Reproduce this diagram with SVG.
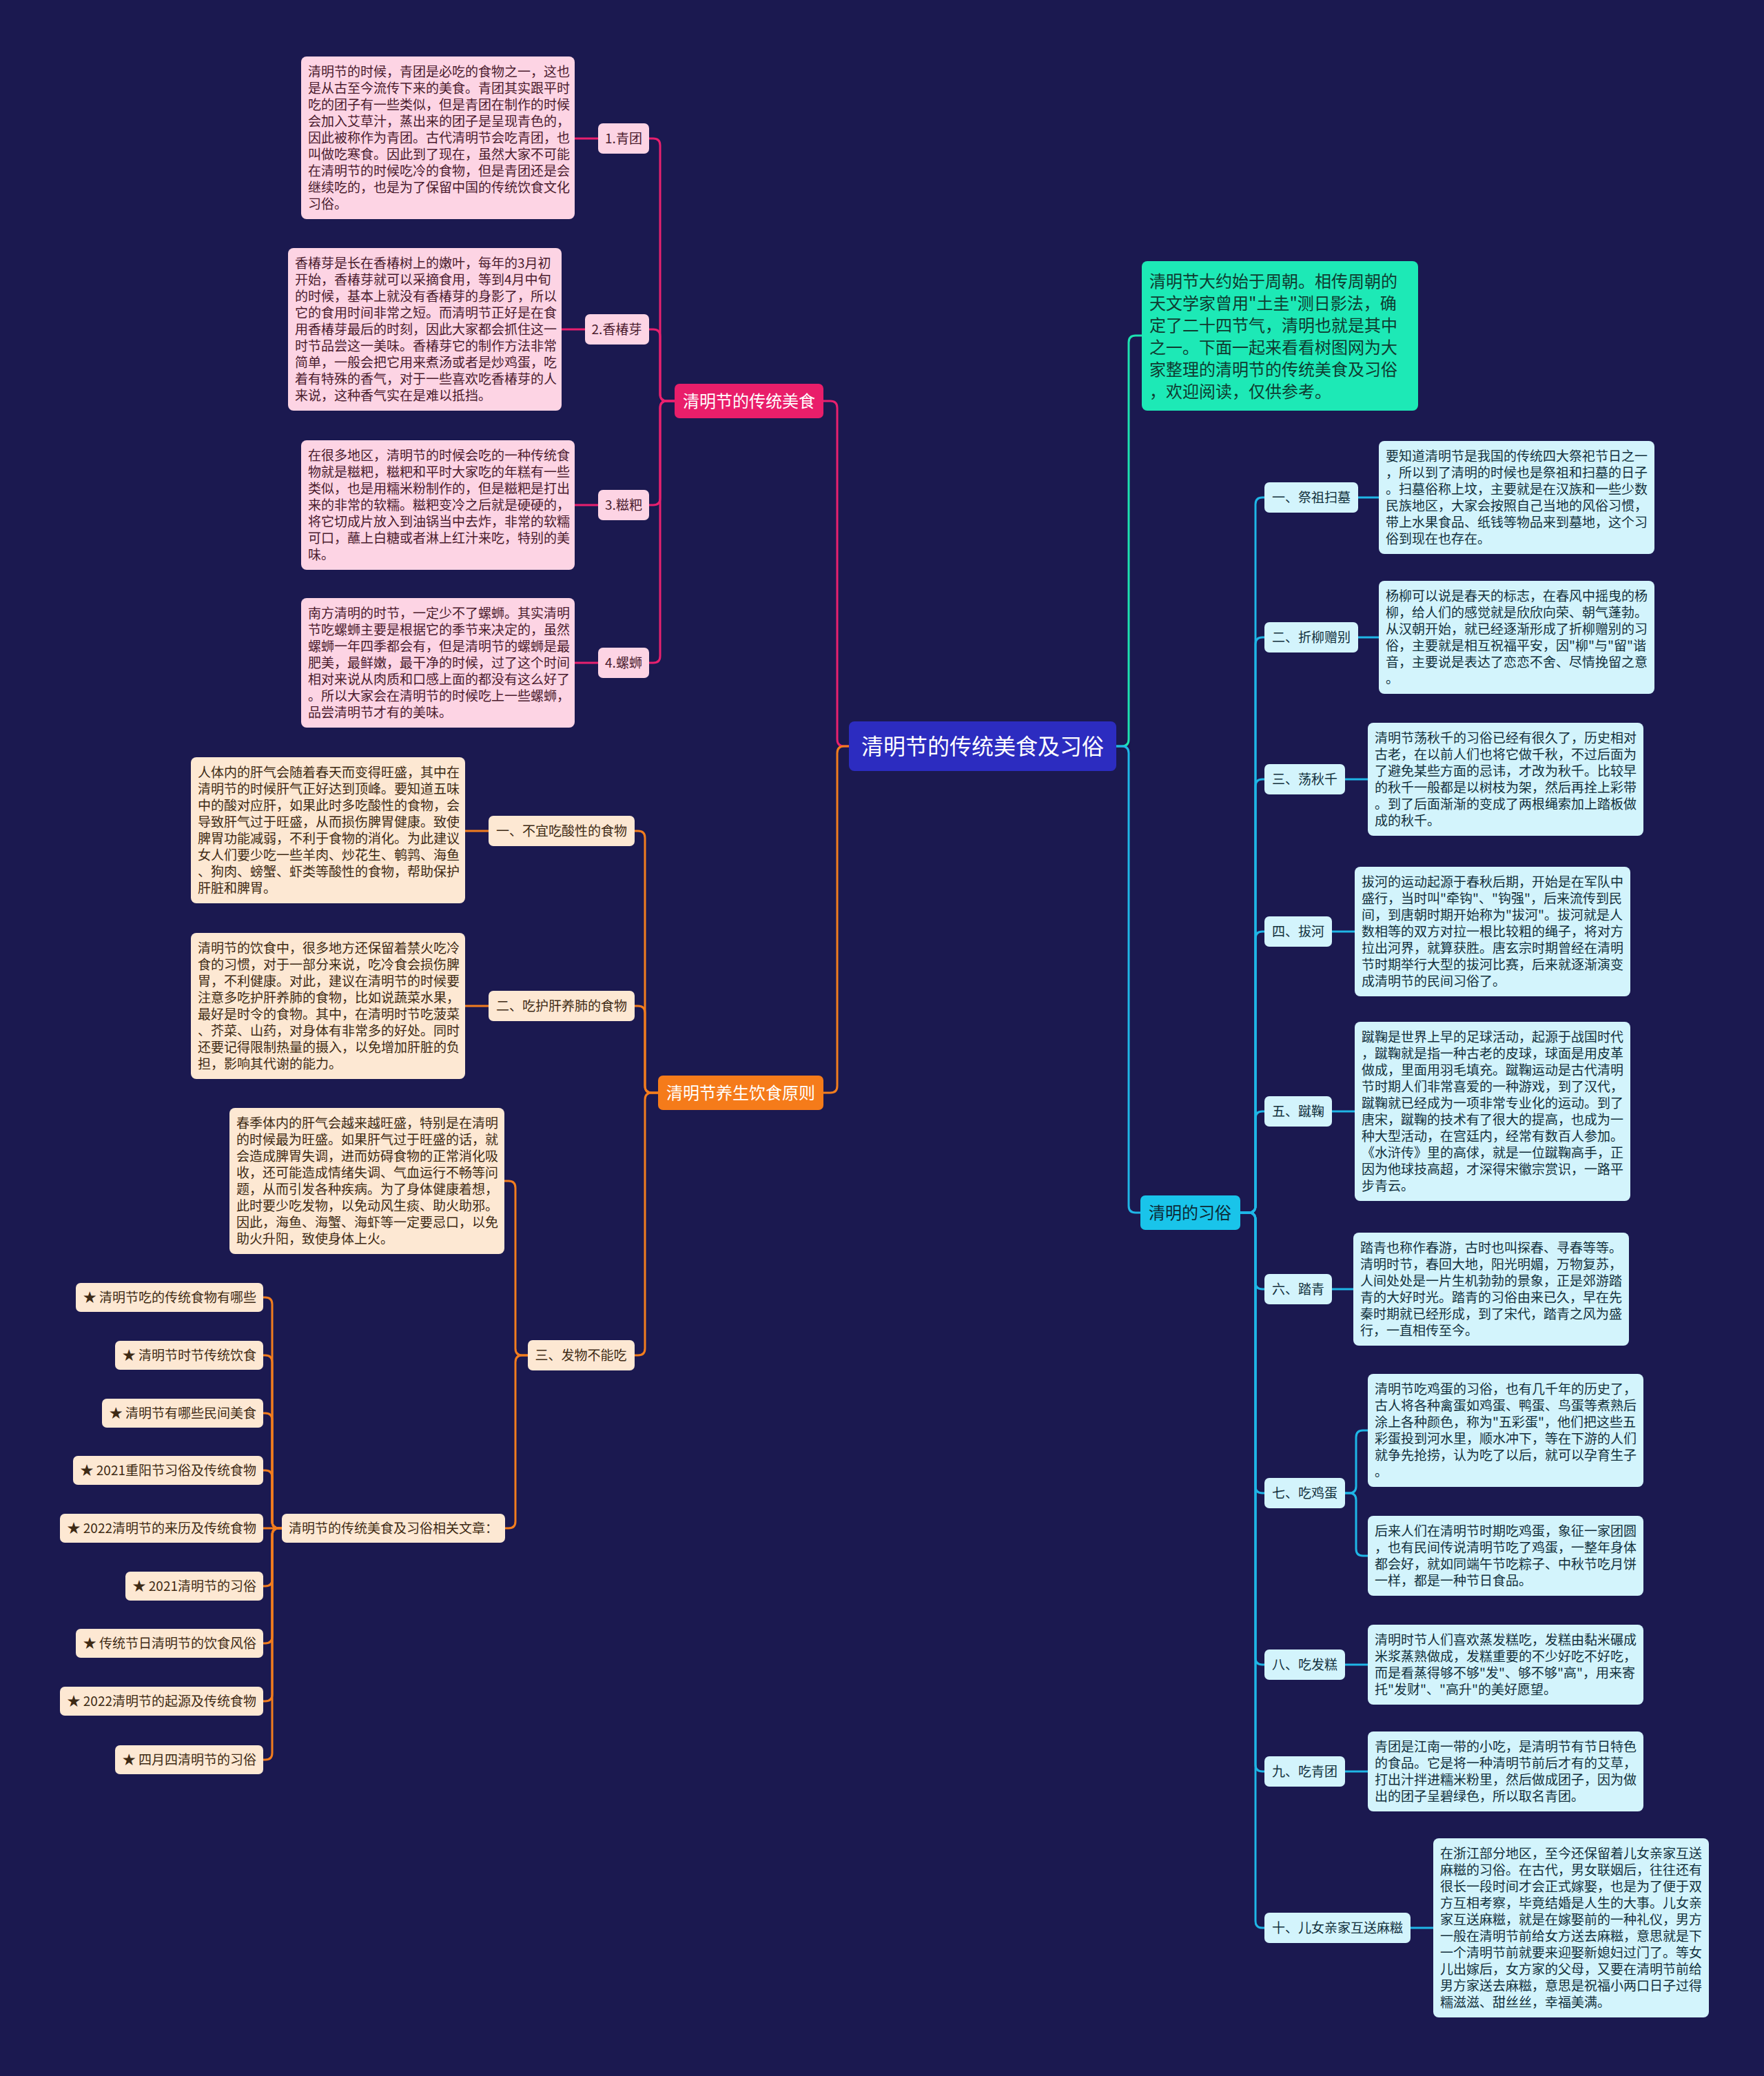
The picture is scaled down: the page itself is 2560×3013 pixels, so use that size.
<svg xmlns="http://www.w3.org/2000/svg" width="2560" height="3013" viewBox="0 0 2560 3013">
<style>
text{font-family:"Noto Sans CJK SC","Noto Sans",sans-serif;}
.t19{font-size:19px;}
.pkb{fill:#fdd4e4;}
.pkt{fill:#4a1b2d;}
.orb{fill:#fde8d3;}
.ort{fill:#3e2a14;}
.cyb{fill:#d3f4fc;}
.cyt{fill:#12303c;}
.lp{fill:none;stroke:#e8206e;stroke-width:3;}
.lo{fill:none;stroke:#f27d1e;stroke-width:3;}
.lc{fill:none;stroke:#1fb6e6;stroke-width:3;}
.lt{fill:none;stroke:#1de2b0;stroke-width:3;}
</style>
<rect x="0" y="0" width="2560" height="3013" fill="#1b1950"/>
<g id="connectors">
<path class="lp" d="M1232 1083 H1225 Q1215 1083 1215 1073 V592 Q1215 582 1205 582 H1195"/>
<path class="lo" d="M1232 1083 H1225 Q1215 1083 1215 1093 V1576 Q1215 1586 1205 1586 H1195"/>
<path class="lt" d="M1620 1083 H1628 Q1638 1083 1638 1073 V497 Q1638 487 1648 487 H1657"/>
<path class="lc" d="M1620 1083 H1628 Q1638 1083 1638 1093 V1750 Q1638 1760 1648 1760 H1655"/>
<path class="lp" d="M979 582 H968 Q958 582 958 572 V211 Q958 201 948 201 H942"/>
<path class="lp" d="M979 582 H968 Q958 582 958 572 V488 Q958 478 948 478 H942"/>
<path class="lp" d="M979 582 H968 Q958 582 958 592 V723 Q958 733 948 733 H942"/>
<path class="lp" d="M979 582 H968 Q958 582 958 592 V952 Q958 962 948 962 H942"/>
<path class="lp" d="M868 201 H834"/>
<path class="lp" d="M849 478 H815"/>
<path class="lp" d="M868 733 H834"/>
<path class="lp" d="M868 962 H834"/>
<path class="lo" d="M955 1586 H946 Q936 1586 936 1576 V1216 Q936 1206 926 1206 H921"/>
<path class="lo" d="M955 1586 H946 Q936 1586 936 1576 V1470 Q936 1460 926 1460 H921"/>
<path class="lo" d="M955 1586 H946 Q936 1586 936 1596 V1957 Q936 1967 926 1967 H921"/>
<path class="lo" d="M709 1206 H675"/>
<path class="lo" d="M709 1460 H675"/>
<path class="lo" d="M766 1967 H758 Q748 1967 748 1957 V1724 Q748 1714 738 1714 H732"/>
<path class="lo" d="M766 1967 H758 Q748 1967 748 1977 V2208 Q748 2218 738 2218 H733"/>
<path class="lo" d="M409 2218 H405 Q395 2218 395 2208 V1893 Q395 1883 385 1883 H382"/>
<path class="lo" d="M409 2218 H405 Q395 2218 395 2208 V1977 Q395 1967 385 1967 H382"/>
<path class="lo" d="M409 2218 H405 Q395 2218 395 2208 V2061 Q395 2051 385 2051 H382"/>
<path class="lo" d="M409 2218 H405 Q395 2218 395 2208 V2144 Q395 2134 385 2134 H382"/>
<path class="lo" d="M409 2218 H382"/>
<path class="lo" d="M409 2218 H405 Q395 2218 395 2228 V2292 Q395 2302 385 2302 H382"/>
<path class="lo" d="M409 2218 H405 Q395 2218 395 2228 V2375 Q395 2385 385 2385 H382"/>
<path class="lo" d="M409 2218 H405 Q395 2218 395 2228 V2459 Q395 2469 385 2469 H382"/>
<path class="lo" d="M409 2218 H405 Q395 2218 395 2228 V2544 Q395 2554 385 2554 H382"/>
<path class="lc" d="M1800 1760 H1812 Q1822 1760 1822 1750 V732 Q1822 722 1832 722 H1835"/>
<path class="lc" d="M1800 1760 H1812 Q1822 1760 1822 1750 V935 Q1822 925 1832 925 H1835"/>
<path class="lc" d="M1800 1760 H1812 Q1822 1760 1822 1750 V1141 Q1822 1131 1832 1131 H1835"/>
<path class="lc" d="M1800 1760 H1812 Q1822 1760 1822 1750 V1362 Q1822 1352 1832 1352 H1835"/>
<path class="lc" d="M1800 1760 H1812 Q1822 1760 1822 1750 V1623 Q1822 1613 1832 1613 H1835"/>
<path class="lc" d="M1800 1760 H1812 Q1822 1760 1822 1770 V1861 Q1822 1871 1832 1871 H1835"/>
<path class="lc" d="M1800 1760 H1812 Q1822 1760 1822 1770 V2157 Q1822 2167 1832 2167 H1835"/>
<path class="lc" d="M1800 1760 H1812 Q1822 1760 1822 1770 V2406 Q1822 2416 1832 2416 H1835"/>
<path class="lc" d="M1800 1760 H1812 Q1822 1760 1822 1770 V2561 Q1822 2571 1832 2571 H1835"/>
<path class="lc" d="M1800 1760 H1812 Q1822 1760 1822 1770 V2788 Q1822 2798 1832 2798 H1835"/>
<path class="lc" d="M1971 722 H2001"/>
<path class="lc" d="M1971 925 H2001"/>
<path class="lc" d="M1952 1131 H1985"/>
<path class="lc" d="M1933 1352 H1966"/>
<path class="lc" d="M1933 1613 H1966"/>
<path class="lc" d="M1933 1871 H1964"/>
<path class="lc" d="M1952 2167 H1958 Q1968 2167 1968 2157 V2086 Q1968 2076 1978 2076 H1985"/>
<path class="lc" d="M1952 2167 H1958 Q1968 2167 1968 2177 V2248 Q1968 2258 1978 2258 H1985"/>
<path class="lc" d="M1952 2416 H1985"/>
<path class="lc" d="M1952 2571 H1985"/>
<path class="lc" d="M2047 2798 H2080"/>
</g>

<g id="root">
<rect x="1232" y="1047" width="388" height="72" rx="8" fill="#2c2cc0"/>
<text x="1426" y="1095" font-size="32" fill="#ffffff" text-anchor="middle">清明节的传统美食及习俗</text>
</g>

<g id="branch-food">
<rect x="979" y="557" width="216" height="50" rx="7" fill="#e91e6a"/>
<text x="1087" y="591" font-size="24" fill="#ffffff" text-anchor="middle">清明节的传统美食</text>
</g>
<g id="branch-diet">
<rect x="955" y="1561" width="240" height="50" rx="7" fill="#f57b1a"/>
<text x="1075" y="1595" font-size="24" fill="#ffffff" text-anchor="middle">清明节养生饮食原则</text>
</g>
<g id="branch-intro">
<rect x="1657" y="379" width="401" height="217" rx="8" fill="#1de9b6"/>
<text font-size="24" fill="#0f3b30">
<tspan x="1668" y="417">清明节大约始于周朝。相传周朝的</tspan>
<tspan x="1668" y="449">天文学家曾用"土圭"测日影法，确</tspan>
<tspan x="1668" y="481">定了二十四节气，清明也就是其中</tspan>
<tspan x="1668" y="513">之一。下面一起来看看树图网为大</tspan>
<tspan x="1668" y="545">家整理的清明节的传统美食及习俗</tspan>
<tspan x="1668" y="577">，欢迎阅读，仅供参考。</tspan>
</text>
</g>
<g id="branch-custom">
<rect x="1655" y="1735" width="145" height="50" rx="7" fill="#19c4ea"/>
<text x="1727" y="1769" font-size="24" fill="#0c2a36" text-anchor="middle">清明的习俗</text>
</g>

<g id="food-1">
<rect class="pkb" x="868" y="179" width="74" height="44" rx="7"/>
<text class="t19 pkt" x="905" y="208" text-anchor="middle">1.青团</text>
</g>
<g id="food-1-text">
<rect class="pkb" x="437" y="82" width="397" height="236" rx="8"/>
<text class="t19 pkt">
<tspan x="447" y="111">清明节的时候，青团是必吃的食物之一，这也</tspan>
<tspan x="447" y="135">是从古至今流传下来的美食。青团其实跟平时</tspan>
<tspan x="447" y="159">吃的团子有一些类似，但是青团在制作的时候</tspan>
<tspan x="447" y="183">会加入艾草汁，蒸出来的团子是呈现青色的，</tspan>
<tspan x="447" y="207">因此被称作为青团。古代清明节会吃青团，也</tspan>
<tspan x="447" y="231">叫做吃寒食。因此到了现在，虽然大家不可能</tspan>
<tspan x="447" y="255">在清明节的时候吃冷的食物，但是青团还是会</tspan>
<tspan x="447" y="279">继续吃的，也是为了保留中国的传统饮食文化</tspan>
<tspan x="447" y="303">习俗。</tspan>
</text>
</g>
<g id="food-2">
<rect class="pkb" x="849" y="456" width="93" height="44" rx="7"/>
<text class="t19 pkt" x="895" y="485" text-anchor="middle">2.香椿芽</text>
</g>
<g id="food-2-text">
<rect class="pkb" x="418" y="360" width="397" height="236" rx="8"/>
<text class="t19 pkt">
<tspan x="428" y="389">香椿芽是长在香椿树上的嫩叶，每年的3月初</tspan>
<tspan x="428" y="413">开始，香椿芽就可以采摘食用，等到4月中旬</tspan>
<tspan x="428" y="437">的时候，基本上就没有香椿芽的身影了，所以</tspan>
<tspan x="428" y="461">它的食用时间非常之短。而清明节正好是在食</tspan>
<tspan x="428" y="485">用香椿芽最后的时刻，因此大家都会抓住这一</tspan>
<tspan x="428" y="509">时节品尝这一美味。香椿芽它的制作方法非常</tspan>
<tspan x="428" y="533">简单，一般会把它用来煮汤或者是炒鸡蛋，吃</tspan>
<tspan x="428" y="557">着有特殊的香气，对于一些喜欢吃香椿芽的人</tspan>
<tspan x="428" y="581">来说，这种香气实在是难以抵挡。</tspan>
</text>
</g>
<g id="food-3">
<rect class="pkb" x="868" y="711" width="74" height="44" rx="7"/>
<text class="t19 pkt" x="905" y="740" text-anchor="middle">3.糍粑</text>
</g>
<g id="food-3-text">
<rect class="pkb" x="437" y="639" width="397" height="188" rx="8"/>
<text class="t19 pkt">
<tspan x="447" y="668">在很多地区，清明节的时候会吃的一种传统食</tspan>
<tspan x="447" y="692">物就是糍粑，糍粑和平时大家吃的年糕有一些</tspan>
<tspan x="447" y="716">类似，也是用糯米粉制作的，但是糍粑是打出</tspan>
<tspan x="447" y="740">来的非常的软糯。糍粑变冷之后就是硬硬的，</tspan>
<tspan x="447" y="764">将它切成片放入到油锅当中去炸，非常的软糯</tspan>
<tspan x="447" y="788">可口，蘸上白糖或者淋上红汁来吃，特别的美</tspan>
<tspan x="447" y="812">味。</tspan>
</text>
</g>
<g id="food-4">
<rect class="pkb" x="868" y="940" width="74" height="44" rx="7"/>
<text class="t19 pkt" x="905" y="969" text-anchor="middle">4.螺蛳</text>
</g>
<g id="food-4-text">
<rect class="pkb" x="437" y="868" width="397" height="188" rx="8"/>
<text class="t19 pkt">
<tspan x="447" y="897">南方清明的时节，一定少不了螺蛳。其实清明</tspan>
<tspan x="447" y="921">节吃螺蛳主要是根据它的季节来决定的，虽然</tspan>
<tspan x="447" y="945">螺蛳一年四季都会有，但是清明节的螺蛳是最</tspan>
<tspan x="447" y="969">肥美，最鲜嫩，最干净的时候，过了这个时间</tspan>
<tspan x="447" y="993">相对来说从肉质和口感上面的都没有这么好了</tspan>
<tspan x="447" y="1017">。所以大家会在清明节的时候吃上一些螺蛳，</tspan>
<tspan x="447" y="1041">品尝清明节才有的美味。</tspan>
</text>
</g>

<g id="diet-1">
<rect class="orb" x="709" y="1184" width="212" height="44" rx="7"/>
<text class="t19 ort" x="815" y="1213" text-anchor="middle">一、不宜吃酸性的食物</text>
</g>
<g id="diet-1-text">
<rect class="orb" x="277" y="1099" width="398" height="212" rx="8"/>
<text class="t19 ort">
<tspan x="287" y="1128">人体内的肝气会随着春天而变得旺盛，其中在</tspan>
<tspan x="287" y="1152">清明节的时候肝气正好达到顶峰。要知道五味</tspan>
<tspan x="287" y="1176">中的酸对应肝，如果此时多吃酸性的食物，会</tspan>
<tspan x="287" y="1200">导致肝气过于旺盛，从而损伤脾胃健康。致使</tspan>
<tspan x="287" y="1224">脾胃功能减弱，不利于食物的消化。为此建议</tspan>
<tspan x="287" y="1248">女人们要少吃一些羊肉、炒花生、鹌鹑、海鱼</tspan>
<tspan x="287" y="1272">、狗肉、螃蟹、虾类等酸性的食物，帮助保护</tspan>
<tspan x="287" y="1296">肝脏和脾胃。</tspan>
</text>
</g>
<g id="diet-2">
<rect class="orb" x="709" y="1438" width="212" height="44" rx="7"/>
<text class="t19 ort" x="815" y="1467" text-anchor="middle">二、吃护肝养肺的食物</text>
</g>
<g id="diet-2-text">
<rect class="orb" x="277" y="1354" width="398" height="212" rx="8"/>
<text class="t19 ort">
<tspan x="287" y="1383">清明节的饮食中，很多地方还保留着禁火吃冷</tspan>
<tspan x="287" y="1407">食的习惯，对于一部分来说，吃冷食会损伤脾</tspan>
<tspan x="287" y="1431">胃，不利健康。对此，建议在清明节的时候要</tspan>
<tspan x="287" y="1455">注意多吃护肝养肺的食物，比如说蔬菜水果，</tspan>
<tspan x="287" y="1479">最好是时令的食物。其中，在清明时节吃菠菜</tspan>
<tspan x="287" y="1503">、芥菜、山药，对身体有非常多的好处。同时</tspan>
<tspan x="287" y="1527">还要记得限制热量的摄入，以免增加肝脏的负</tspan>
<tspan x="287" y="1551">担，影响其代谢的能力。</tspan>
</text>
</g>
<g id="diet-3">
<rect class="orb" x="766" y="1945" width="155" height="44" rx="7"/>
<text class="t19 ort" x="843" y="1974" text-anchor="middle">三、发物不能吃</text>
</g>
<g id="diet-3-text">
<rect class="orb" x="333" y="1608" width="399" height="212" rx="8"/>
<text class="t19 ort">
<tspan x="343" y="1637">春季体内的肝气会越来越旺盛，特别是在清明</tspan>
<tspan x="343" y="1661">的时候最为旺盛。如果肝气过于旺盛的话，就</tspan>
<tspan x="343" y="1685">会造成脾胃失调，进而妨碍食物的正常消化吸</tspan>
<tspan x="343" y="1709">收，还可能造成情绪失调、气血运行不畅等问</tspan>
<tspan x="343" y="1733">题，从而引发各种疾病。为了身体健康着想，</tspan>
<tspan x="343" y="1757">此时要少吃发物，以免动风生痰、助火助邪。</tspan>
<tspan x="343" y="1781">因此，海鱼、海蟹、海虾等一定要忌口，以免</tspan>
<tspan x="343" y="1805">助火升阳，致使身体上火。</tspan>
</text>
</g>
<g id="related">
<rect class="orb" x="409" y="2197" width="324" height="42" rx="7"/>
<text class="t19 ort" x="419" y="2225">清明节的传统美食及习俗相关文章：</text>
</g>
<g id="rel-1"><rect class="orb" x="110" y="1862" width="272" height="42" rx="7"/><text class="t19 ort" x="372" y="1890" text-anchor="end">★ 清明节吃的传统食物有哪些</text></g>
<g id="rel-2"><rect class="orb" x="167" y="1946" width="215" height="42" rx="7"/><text class="t19 ort" x="372" y="1974" text-anchor="end">★ 清明节时节传统饮食</text></g>
<g id="rel-3"><rect class="orb" x="148" y="2030" width="234" height="42" rx="7"/><text class="t19 ort" x="372" y="2058" text-anchor="end">★ 清明节有哪些民间美食</text></g>
<g id="rel-4"><rect class="orb" x="106" y="2113" width="276" height="42" rx="7"/><text class="t19 ort" x="372" y="2141" text-anchor="end">★ 2021重阳节习俗及传统食物</text></g>
<g id="rel-5"><rect class="orb" x="87" y="2197" width="295" height="42" rx="7"/><text class="t19 ort" x="372" y="2225" text-anchor="end">★ 2022清明节的来历及传统食物</text></g>
<g id="rel-6"><rect class="orb" x="182" y="2281" width="200" height="42" rx="7"/><text class="t19 ort" x="372" y="2309" text-anchor="end">★ 2021清明节的习俗</text></g>
<g id="rel-7"><rect class="orb" x="110" y="2364" width="272" height="42" rx="7"/><text class="t19 ort" x="372" y="2392" text-anchor="end">★ 传统节日清明节的饮食风俗</text></g>
<g id="rel-8"><rect class="orb" x="87" y="2448" width="295" height="42" rx="7"/><text class="t19 ort" x="372" y="2476" text-anchor="end">★ 2022清明节的起源及传统食物</text></g>
<g id="rel-9"><rect class="orb" x="167" y="2533" width="215" height="42" rx="7"/><text class="t19 ort" x="372" y="2561" text-anchor="end">★ 四月四清明节的习俗</text></g>

<g id="custom-1">
<rect class="cyb" x="1835" y="700" width="136" height="44" rx="7"/>
<text class="t19 cyt" x="1846" y="729">一、祭祖扫墓</text>
</g>
<g id="custom-1-text">
<rect class="cyb" x="2001" y="640" width="400" height="164" rx="8"/>
<text class="t19 cyt">
<tspan x="2011" y="669">要知道清明节是我国的传统四大祭祀节日之一</tspan>
<tspan x="2011" y="693">，所以到了清明的时候也是祭祖和扫墓的日子</tspan>
<tspan x="2011" y="717">。扫墓俗称上坟，主要就是在汉族和一些少数</tspan>
<tspan x="2011" y="741">民族地区，大家会按照自己当地的风俗习惯，</tspan>
<tspan x="2011" y="765">带上水果食品、纸钱等物品来到墓地，这个习</tspan>
<tspan x="2011" y="789">俗到现在也存在。</tspan>
</text>
</g>
<g id="custom-2">
<rect class="cyb" x="1835" y="903" width="136" height="44" rx="7"/>
<text class="t19 cyt" x="1846" y="932">二、折柳赠别</text>
</g>
<g id="custom-2-text">
<rect class="cyb" x="2001" y="843" width="400" height="164" rx="8"/>
<text class="t19 cyt">
<tspan x="2011" y="872">杨柳可以说是春天的标志，在春风中摇曳的杨</tspan>
<tspan x="2011" y="896">柳，给人们的感觉就是欣欣向荣、朝气蓬勃。</tspan>
<tspan x="2011" y="920">从汉朝开始，就已经逐渐形成了折柳赠别的习</tspan>
<tspan x="2011" y="944">俗，主要就是相互祝福平安，因"柳"与"留"谐</tspan>
<tspan x="2011" y="968">音，主要说是表达了恋恋不舍、尽情挽留之意</tspan>
<tspan x="2011" y="992">。</tspan>
</text>
</g>
<g id="custom-3">
<rect class="cyb" x="1835" y="1109" width="117" height="44" rx="7"/>
<text class="t19 cyt" x="1846" y="1138">三、荡秋千</text>
</g>
<g id="custom-3-text">
<rect class="cyb" x="1985" y="1049" width="400" height="164" rx="8"/>
<text class="t19 cyt">
<tspan x="1995" y="1078">清明节荡秋千的习俗已经有很久了，历史相对</tspan>
<tspan x="1995" y="1102">古老，在以前人们也将它做千秋，不过后面为</tspan>
<tspan x="1995" y="1126">了避免某些方面的忌讳，才改为秋千。比较早</tspan>
<tspan x="1995" y="1150">的秋千一般都是以树枝为架，然后再拴上彩带</tspan>
<tspan x="1995" y="1174">。到了后面渐渐的变成了两根绳索加上踏板做</tspan>
<tspan x="1995" y="1198">成的秋千。</tspan>
</text>
</g>
<g id="custom-4">
<rect class="cyb" x="1835" y="1330" width="98" height="44" rx="7"/>
<text class="t19 cyt" x="1846" y="1359">四、拔河</text>
</g>
<g id="custom-4-text">
<rect class="cyb" x="1966" y="1258" width="400" height="188" rx="8"/>
<text class="t19 cyt">
<tspan x="1976" y="1287">拔河的运动起源于春秋后期，开始是在军队中</tspan>
<tspan x="1976" y="1311">盛行，当时叫"牵钩"、"钩强"，后来流传到民</tspan>
<tspan x="1976" y="1335">间，到唐朝时期开始称为"拔河"。拔河就是人</tspan>
<tspan x="1976" y="1359">数相等的双方对拉一根比较粗的绳子，将对方</tspan>
<tspan x="1976" y="1383">拉出河界，就算获胜。唐玄宗时期曾经在清明</tspan>
<tspan x="1976" y="1407">节时期举行大型的拔河比赛，后来就逐渐演变</tspan>
<tspan x="1976" y="1431">成清明节的民间习俗了。</tspan>
</text>
</g>
<g id="custom-5">
<rect class="cyb" x="1835" y="1591" width="98" height="44" rx="7"/>
<text class="t19 cyt" x="1846" y="1620">五、蹴鞠</text>
</g>
<g id="custom-5-text">
<rect class="cyb" x="1966" y="1483" width="400" height="260" rx="8"/>
<text class="t19 cyt">
<tspan x="1976" y="1512">蹴鞠是世界上早的足球活动，起源于战国时代</tspan>
<tspan x="1976" y="1536">，蹴鞠就是指一种古老的皮球，球面是用皮革</tspan>
<tspan x="1976" y="1560">做成，里面用羽毛填充。蹴鞠运动是古代清明</tspan>
<tspan x="1976" y="1584">节时期人们非常喜爱的一种游戏，到了汉代，</tspan>
<tspan x="1976" y="1608">蹴鞠就已经成为一项非常专业化的运动。到了</tspan>
<tspan x="1976" y="1632">唐宋，蹴鞠的技术有了很大的提高，也成为一</tspan>
<tspan x="1976" y="1656">种大型活动，在宫廷内，经常有数百人参加。</tspan>
<tspan x="1976" y="1680">《水浒传》里的高俅，就是一位蹴鞠高手，正</tspan>
<tspan x="1976" y="1704">因为他球技高超，才深得宋徽宗赏识，一路平</tspan>
<tspan x="1976" y="1728">步青云。</tspan>
</text>
</g>
<g id="custom-6">
<rect class="cyb" x="1835" y="1849" width="98" height="44" rx="7"/>
<text class="t19 cyt" x="1846" y="1878">六、踏青</text>
</g>
<g id="custom-6-text">
<rect class="cyb" x="1964" y="1789" width="400" height="164" rx="8"/>
<text class="t19 cyt">
<tspan x="1974" y="1818">踏青也称作春游，古时也叫探春、寻春等等。</tspan>
<tspan x="1974" y="1842">清明时节，春回大地，阳光明媚，万物复苏，</tspan>
<tspan x="1974" y="1866">人间处处是一片生机勃勃的景象，正是郊游踏</tspan>
<tspan x="1974" y="1890">青的大好时光。踏青的习俗由来已久，早在先</tspan>
<tspan x="1974" y="1914">秦时期就已经形成，到了宋代，踏青之风为盛</tspan>
<tspan x="1974" y="1938">行，一直相传至今。</tspan>
</text>
</g>
<g id="custom-7">
<rect class="cyb" x="1835" y="2145" width="117" height="44" rx="7"/>
<text class="t19 cyt" x="1846" y="2174">七、吃鸡蛋</text>
</g>
<g id="custom-7-text-1">
<rect class="cyb" x="1985" y="1994" width="400" height="164" rx="8"/>
<text class="t19 cyt">
<tspan x="1995" y="2023">清明节吃鸡蛋的习俗，也有几千年的历史了，</tspan>
<tspan x="1995" y="2047">古人将各种禽蛋如鸡蛋、鸭蛋、鸟蛋等煮熟后</tspan>
<tspan x="1995" y="2071">涂上各种颜色，称为"五彩蛋"，他们把这些五</tspan>
<tspan x="1995" y="2095">彩蛋投到河水里，顺水冲下，等在下游的人们</tspan>
<tspan x="1995" y="2119">就争先抢捞，认为吃了以后，就可以孕育生子</tspan>
<tspan x="1995" y="2143">。</tspan>
</text>
</g>
<g id="custom-7-text-2">
<rect class="cyb" x="1985" y="2200" width="400" height="116" rx="8"/>
<text class="t19 cyt">
<tspan x="1995" y="2229">后来人们在清明节时期吃鸡蛋，象征一家团圆</tspan>
<tspan x="1995" y="2253">，也有民间传说清明节吃了鸡蛋，一整年身体</tspan>
<tspan x="1995" y="2277">都会好，就如同端午节吃粽子、中秋节吃月饼</tspan>
<tspan x="1995" y="2301">一样，都是一种节日食品。</tspan>
</text>
</g>
<g id="custom-8">
<rect class="cyb" x="1835" y="2394" width="117" height="44" rx="7"/>
<text class="t19 cyt" x="1846" y="2423">八、吃发糕</text>
</g>
<g id="custom-8-text">
<rect class="cyb" x="1985" y="2358" width="400" height="116" rx="8"/>
<text class="t19 cyt">
<tspan x="1995" y="2387">清明时节人们喜欢蒸发糕吃，发糕由黏米碾成</tspan>
<tspan x="1995" y="2411">米浆蒸熟做成，发糕重要的不少好吃不好吃，</tspan>
<tspan x="1995" y="2435">而是看蒸得够不够"发"、够不够"高"，用来寄</tspan>
<tspan x="1995" y="2459">托"发财"、"高升"的美好愿望。</tspan>
</text>
</g>
<g id="custom-9">
<rect class="cyb" x="1835" y="2549" width="117" height="44" rx="7"/>
<text class="t19 cyt" x="1846" y="2578">九、吃青团</text>
</g>
<g id="custom-9-text">
<rect class="cyb" x="1985" y="2513" width="400" height="116" rx="8"/>
<text class="t19 cyt">
<tspan x="1995" y="2542">青团是江南一带的小吃，是清明节有节日特色</tspan>
<tspan x="1995" y="2566">的食品。它是将一种清明节前后才有的艾草，</tspan>
<tspan x="1995" y="2590">打出汁拌进糯米粉里，然后做成团子，因为做</tspan>
<tspan x="1995" y="2614">出的团子呈碧绿色，所以取名青团。</tspan>
</text>
</g>
<g id="custom-10">
<rect class="cyb" x="1835" y="2776" width="212" height="44" rx="7"/>
<text class="t19 cyt" x="1846" y="2805">十、儿女亲家互送麻糍</text>
</g>
<g id="custom-10-text">
<rect class="cyb" x="2080" y="2668" width="400" height="260" rx="8"/>
<text class="t19 cyt">
<tspan x="2090" y="2697">在浙江部分地区，至今还保留着儿女亲家互送</tspan>
<tspan x="2090" y="2721">麻糍的习俗。在古代，男女联姻后，往往还有</tspan>
<tspan x="2090" y="2745">很长一段时间才会正式嫁娶，也是为了便于双</tspan>
<tspan x="2090" y="2769">方互相考察，毕竟结婚是人生的大事。儿女亲</tspan>
<tspan x="2090" y="2793">家互送麻糍，就是在嫁娶前的一种礼仪，男方</tspan>
<tspan x="2090" y="2817">一般在清明节前给女方送去麻糍，意思就是下</tspan>
<tspan x="2090" y="2841">一个清明节前就要来迎娶新媳妇过门了。等女</tspan>
<tspan x="2090" y="2865">儿出嫁后，女方家的父母，又要在清明节前给</tspan>
<tspan x="2090" y="2889">男方家送去麻糍，意思是祝福小两口日子过得</tspan>
<tspan x="2090" y="2913">糯滋滋、甜丝丝，幸福美满。</tspan>
</text>
</g>
</svg>
